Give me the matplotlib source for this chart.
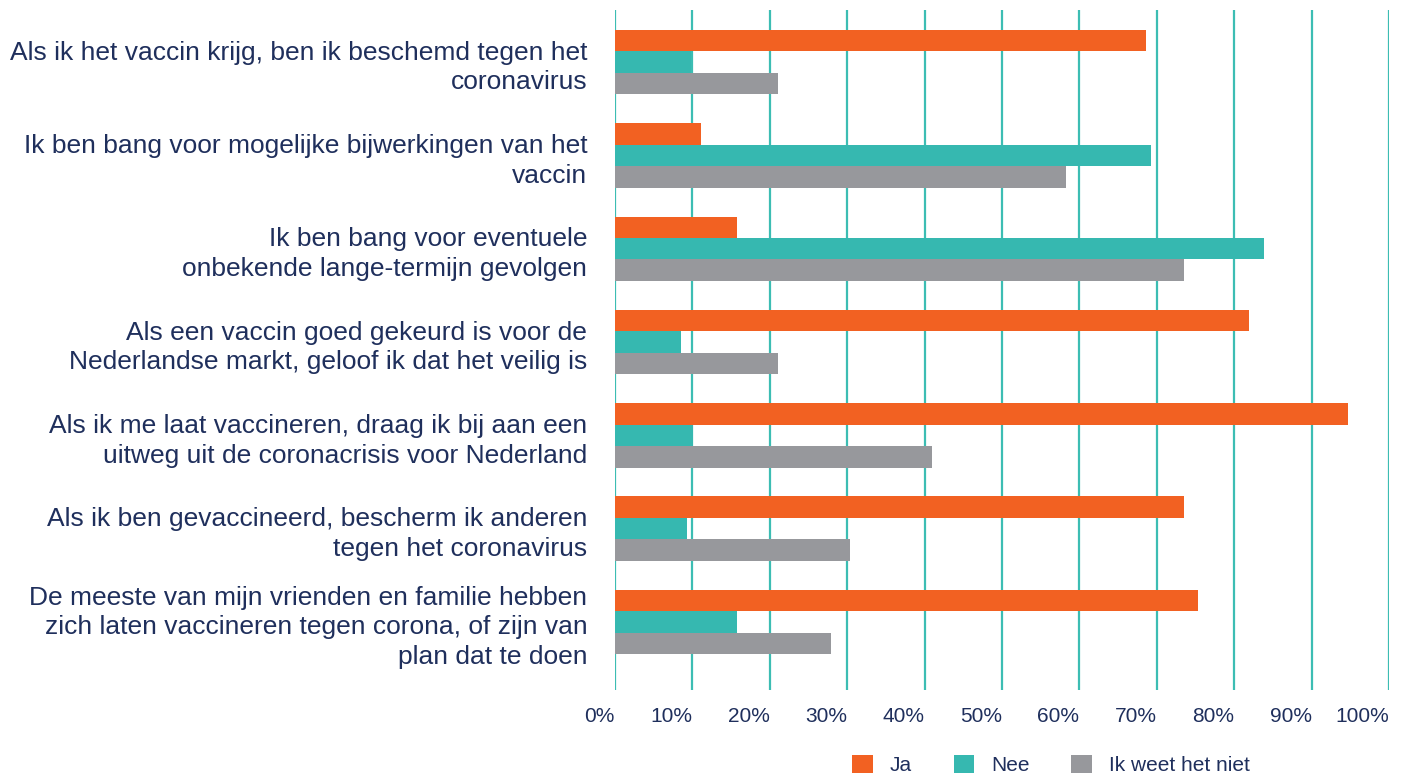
import matplotlib
matplotlib.use("Agg")
import matplotlib.pyplot as plt
import numpy as np
from matplotlib.ticker import PercentFormatter

categories = [
    "Als ik het vaccin krijg, ben ik beschemd tegen het\ncoronavirus",
    "Ik ben bang voor mogelijke bijwerkingen van het\nvaccin",
    "Ik ben bang voor eventuele\nonbekende lange-termijn gevolgen",
    "Als een vaccin goed gekeurd is voor de\nNederlandse markt, geloof ik dat het veilig is",
    "Als ik me laat vaccineren, draag ik bij aan een\nuitweg uit de coronacrisis voor Nederland",
    "Als ik ben gevaccineerd, bescherm ik anderen\ntegen het coronavirus",
    "De meeste van mijn vrienden en familie hebben\nzich laten vaccineren tegen corona, of zijn van\nplan dat te doen",
]
ja = [68.6, 11.1, 15.8, 81.9, 94.7, 73.5, 75.3]
nee = [9.8, 69.3, 83.8, 8.5, 10.1, 9.3, 15.8]
weet_niet = [21.0, 58.3, 73.5, 21.0, 41.0, 30.4, 27.9]
series_names = ["Ja", "Nee", "Ik weet het niet"]

orange = "#F26122"
teal = "#36B8B0"
grey = "#97989C"
navy = "#1F2F5C"

plt.rcParams["font.family"] = ["Liberation Sans", "DejaVu Sans"]

fig = plt.figure(figsize=(14.05, 7.78), dpi=100)
ax = fig.add_axes([0.4377, 0.113, 0.551, 0.874])

y = np.arange(len(categories))
h = 0.23
ax.barh(y - h, ja, h, color=orange, label=series_names[0], zorder=3)
ax.barh(y, nee, h, color=teal, label=series_names[1], zorder=3)
ax.barh(y + h, weet_niet, h, color=grey, label=series_names[2], zorder=3)

ax.set_xlim(0, 100)
ax.set_ylim(6.73, -0.557)
ax.set_xticks(np.arange(0, 101, 10))
ax.xaxis.set_major_formatter(PercentFormatter(decimals=0))
ax.xaxis.grid(True, color="#3CBDB3", linewidth=1.6, zorder=0)
ax.set_yticks(y)
ax.set_yticklabels(categories, fontsize=19, color=navy, ha="right",
                   linespacing=1.3)
ax.tick_params(axis="y", length=0, pad=20)
ax.tick_params(axis="x", length=0, pad=12, labelsize=15, labelcolor=navy)
for lab in ax.get_xticklabels():
    lab.set_ha("right")
for s in ax.spines.values():
    s.set_visible(False)

fig.legend(loc="center", bbox_to_anchor=(0.748, 0.017), ncol=3, frameon=False,
           fontsize=15, labelcolor=navy, handlelength=1.0, handleheight=1.0,
           columnspacing=2.0, handletextpad=0.8)

fig.savefig("out.png", dpi=100)
